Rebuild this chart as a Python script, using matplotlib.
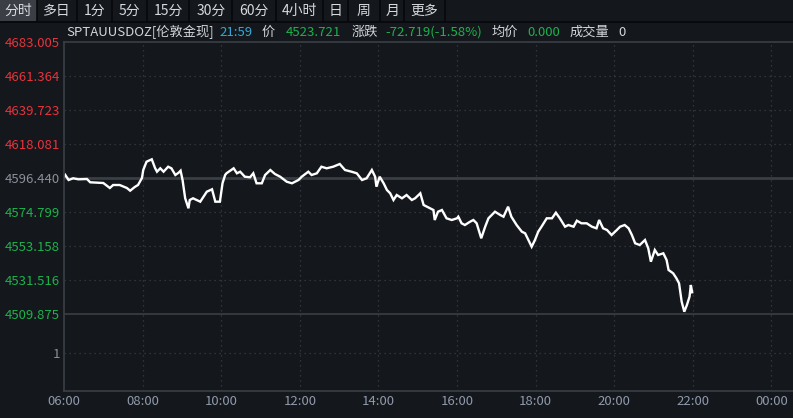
import matplotlib
matplotlib.use("Agg")
import matplotlib.pyplot as plt
from matplotlib.patches import Rectangle
from matplotlib.lines import Line2D

plt.rcParams['font.family'] = ['Noto Sans CJK SC', 'DejaVu Sans']

# intraday quote, sampled off the chart
times = ["06:00", "06:02", "06:07", "06:14", "06:22", "06:35", "06:40", "06:50", "07:00", "07:10",
         "07:15", "07:25", "07:36", "07:41", "07:48", "07:53", "07:59", "08:01", "08:06", "08:14",
         "08:19", "08:22", "08:27", "08:32", "08:39", "08:44", "08:50", "08:55", "08:58", "09:01",
         "09:05", "09:10", "09:12", "09:17", "09:28", "09:33", "09:38", "09:46", "09:51", "09:58",
         "10:02", "10:06", "10:08", "10:19", "10:24", "10:29", "10:36", "10:44", "10:49", "10:54",
         "11:02", "11:07", "11:15", "11:22", "11:30", "11:40", "11:48", "11:58", "12:03", "12:13",
         "12:18", "12:26", "12:33", "12:41", "12:51", "13:01", "13:09", "13:19", "13:27", "13:35",
         "13:42", "13:50", "13:55", "13:57", "14:02", "14:08", "14:13", "14:18", "14:23", "14:28",
         "14:36", "14:43", "14:51", "14:56", "15:04", "15:09", "15:19", "15:24", "15:26", "15:31",
         "15:37", "15:44", "15:52", "16:00", "16:02", "16:07", "16:12", "16:20", "16:25", "16:30",
         "16:37", "16:43", "16:48", "16:58", "17:06", "17:11", "17:18", "17:23", "17:31", "17:39",
         "17:44", "17:49", "17:54", "17:59", "18:04", "18:09", "18:17", "18:25", "18:31", "18:37",
         "18:45", "18:50", "18:58", "19:03", "19:10", "19:18", "19:26", "19:33", "19:37", "19:43",
         "19:49", "19:56", "20:04", "20:09", "20:16", "20:22", "20:27", "20:32", "20:39", "20:47",
         "20:52", "20:56", "21:02", "21:07", "21:15", "21:20", "21:23", "21:30", "21:35", "21:39",
         "21:43", "21:47", "21:51", "21:55", "21:57", "21:59"]
prices = [4597.10, 4598.35, 4595.17, 4596.25, 4595.61, 4595.80, 4593.70, 4593.45, 4593.26, 4590.08,
          4591.98, 4591.98, 4590.08, 4588.36, 4590.71, 4591.98, 4596.44, 4601.53, 4606.81, 4608.34,
          4602.80, 4600.45, 4602.61, 4600.45, 4603.63, 4602.61, 4598.35, 4599.81, 4601.09, 4595.17,
          4583.52, 4577.15, 4582.44, 4583.52, 4581.36, 4584.54, 4587.72, 4589.25, 4581.36, 4581.36,
          4593.07, 4598.35, 4599.43, 4602.61, 4599.43, 4600.45, 4597.27, 4596.89, 4599.43, 4593.07,
          4593.07, 4598.35, 4601.53, 4598.99, 4597.27, 4594.08, 4593.07, 4595.17, 4597.27, 4600.45,
          4598.35, 4599.43, 4603.63, 4602.61, 4603.63, 4605.35, 4601.53, 4600.45, 4599.43, 4595.17,
          4596.25, 4601.53, 4597.27, 4590.90, 4597.27, 4593.07, 4588.80, 4586.70, 4582.44, 4585.62,
          4583.52, 4585.62, 4582.44, 4583.52, 4586.70, 4579.26, 4577.15, 4576.07, 4569.71, 4574.99,
          4576.07, 4570.79, 4569.71, 4570.79, 4571.81, 4567.61, 4566.52, 4568.63, 4569.71, 4567.61,
          4558.06, 4565.44, 4570.79, 4574.99, 4572.89, 4571.81, 4578.17, 4571.81, 4566.52, 4562.26,
          4561.24, 4556.98, 4552.71, 4556.98, 4562.26, 4565.44, 4570.79, 4570.79, 4574.35, 4570.79,
          4565.44, 4566.52, 4565.44, 4569.26, 4567.61, 4567.61, 4565.44, 4564.42, 4569.71, 4564.42,
          4563.34, 4560.16, 4563.34, 4565.44, 4566.52, 4564.42, 4560.16, 4554.88, 4553.79, 4556.98,
          4551.69, 4543.17, 4550.61, 4547.43, 4548.51, 4544.25, 4537.88, 4535.78, 4532.60, 4529.42,
          4517.70, 4511.34, 4515.60, 4520.89, 4528.33, 4523.72]

prev_close = 4596.440
y_levels = [4683.005, 4661.364, 4639.723, 4618.081, 4596.440, 4574.799, 4553.158, 4531.516, 4509.875]
y_labels = ["4683.005", "4661.364", "4639.723", "4618.081", "4596.440", "4574.799", "4553.158", "4531.516", "4509.875"]
x_hours = [6, 8, 10, 12, 14, 16, 18, 20, 22, 24]
x_labels = ["06:00", "08:00", "10:00", "12:00", "14:00", "16:00", "18:00", "20:00", "22:00", "00:00"]
menu_items = ["分时", "多日", "1分", "5分", "15分", "30分", "60分", "4小时", "日", "周", "月", "更多"]

BG = "#14171c"
GRID = "#3a3e45"
RED = "#e8333c"
GREEN = "#1db24c"
GREY = "#8c9099"
TICK = "#8f9aab"

W, H = 793, 418
fig = plt.figure(figsize=(W / 100, H / 100), dpi=100, facecolor=BG)

# menu bar
edges = [0, 36.7, 76.7, 111.7, 146.7, 189.3, 232.3, 276, 323.3, 347.7, 380, 404.3, 445]
for i, name in enumerate(menu_items):
    x0, x1 = edges[i], edges[i + 1]
    if i == 0:
        fig.patches.append(Rectangle((x0 / W, 1 - 21 / H), (x1 - x0) / W, 21 / H,
                                     transform=fig.transFigure, facecolor="#3b3e44", edgecolor="none"))
    fig.text((x0 + x1) / 2 / W, 1 - 11 / H, name, color="#d6d9de", fontsize=10,
             ha="center", va="center")
    fig.add_artist(Line2D([x1 / W, x1 / W], [1 - 21 / H, 1], transform=fig.transFigure,
                          color="#07080a", lw=1.2))
fig.add_artist(Line2D([0, 1], [1 - 21.5 / H, 1 - 21.5 / H], transform=fig.transFigure,
                      color="#07080a", lw=1.2))

# header line
hdr = [("SPTAUUSDOZ[伦敦金现]", "#d3d6db", 0), ("21:59", "#35a9d6", 6), ("价", "#d3d6db", 9),
       ("4523.721", GREEN, 11), ("涨跌", "#d3d6db", 10), ("-72.719(-1.58%)", GREEN, 8),
       ("均价", "#d3d6db", 9), ("0.000", GREEN, 9), ("成交量", "#d3d6db", 10), ("0", "#d3d6db", 9)]
fig.canvas.draw()
r = fig.canvas.get_renderer()
xp = 66
for txt, col, gap in hdr:
    xp += gap
    t = fig.text(xp / W, 1 - 32 / H, txt, color=col, fontsize=9.5, ha="left", va="center")
    xp += t.get_window_extent(renderer=r).width

ax = fig.add_axes([64 / W, 1 - 391 / H, 1 - 64 / W, (391 - 42) / H], facecolor=BG)
step = y_levels[0] - y_levels[1]
px = step / 34.0
ax.set_ylim(y_levels[-1] - 77 * px, y_levels[0])
ax.set_xlim(6, 6 + (W - 64) / 39.3)

hours = [int(t[:2]) + int(t[3:]) / 60 for t in times]
ax.plot(hours, prices, color="white", lw=1.7, solid_joinstyle="miter")

one_pos = y_levels[-1] - 39 * px
ticks = y_levels + [one_pos]
ax.set_yticks(ticks)
ax.set_yticklabels(y_labels + ["1"], fontsize=9.5)
for lab, v in zip(ax.get_yticklabels(), ticks):
    if abs(v - prev_close) < 1e-6:
        lab.set_color(GREY)
    elif v > prev_close:
        lab.set_color(RED)
    elif v == one_pos:
        lab.set_color(GREY)
    else:
        lab.set_color(GREEN)
ax.set_xticks(x_hours)
ax.set_xticklabels(x_labels, fontsize=9.5, color=TICK)
ax.tick_params(length=0, pad=3)

for v in ticks:
    if v in (prev_close, y_levels[-1]):
        ax.axhline(v, color=GRID, lw=2 if v == prev_close else 1.2, zorder=1)
    elif v != y_levels[0]:
        ax.axhline(v, color=GRID, lw=0.9, ls=(0, (1, 3)), zorder=1)
for h in x_hours[1:]:
    ax.axvline(h, color=GRID, lw=0.9, ls=(0, (1, 3)), zorder=1)

for s in ["right"]:
    ax.spines[s].set_visible(False)
for s in ["left", "bottom", "top"]:
    ax.spines[s].set_color(GRID)
    ax.spines[s].set_linewidth(1.2)

fig.savefig("out.png", dpi=100, facecolor=BG)
